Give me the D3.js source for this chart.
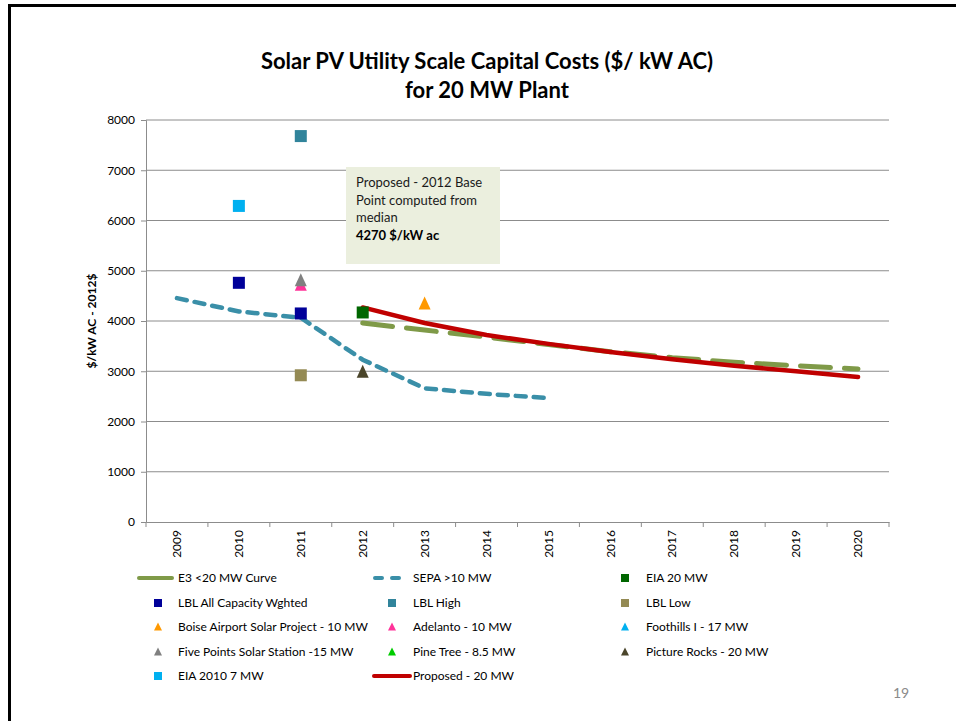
<!DOCTYPE html>
<html><head><meta charset="utf-8">
<script src="https://cdn.jsdelivr.net/npm/d3@7"></script>
<style>body{margin:0;background:#fff;} svg{display:block;}</style>
</head><body>
<script>
const years = ["2009","2010","2011","2012","2013","2014","2015","2016","2017","2018","2019","2020"];
const yTicks = [0,1000,2000,3000,4000,5000,6000,7000,8000];

const e3Years = ["2012","2013","2014","2015","2016","2017","2018","2019","2020"];
const e3Values = [3960,3820,3680,3530,3390,3270,3180,3110,3045];

const sepaYears = ["2009","2010","2011","2012","2013","2014","2015"];
const sepaValues = [4455,4190,4065,3230,2660,2550,2465];

const propYears = ["2012","2013","2014","2015","2016","2017","2018","2019","2020"];
const propValues = [4270,3960,3720,3545,3385,3240,3110,3000,2885];

const eia20 = [["2012",4170]];
const lblAll = [["2010",4760],["2011",4150]];
const lblHigh = [["2011",7680]];
const lblLow = [["2011",2920]];
const boise = [["2013",4350]];
const adelanto = [["2011",4720]];
const foothills = [];
const fivePoints = [["2011",4810]];
const pineTree = [];
const pictureRocks = [["2012",2990]];
const eia2010 = [["2010",6290]];

const W=956,H=721;
const svg=d3.select("body").append("svg").attr("width",W).attr("height",H);
const font="Lato, 'Open Sans', sans-serif";

// page border
svg.append("path").attr("d","M9.5,721 L9.5,5.5 L956,5.5").attr("fill","none").attr("stroke","#000").attr("stroke-width",3);

const x=d3.scaleBand().domain(years).range([146,889]);
const y=d3.scaleLinear().domain([0,8000]).range([522,120]);
const cx=d=>x(d)+x.bandwidth()/2;

// gridlines
svg.append("g").selectAll("line").data(yTicks.slice(1)).join("line")
  .attr("x1",146).attr("x2",889).attr("y1",d=>y(d)).attr("y2",d=>y(d))
  .attr("stroke","#8c8c8c").attr("stroke-width",1);

// y axis
const ya=svg.append("g").attr("transform","translate(146,0)").call(d3.axisLeft(y).tickValues(yTicks).tickSize(5).tickPadding(6).tickFormat(d3.format("d")));
ya.select(".domain").attr("stroke","#8c8c8c");
ya.selectAll(".tick line").attr("stroke","#8c8c8c");
ya.selectAll("text").attr("font-family",font).attr("font-size",12).attr("fill","#000");

// x axis
const xa=svg.append("g").attr("transform","translate(0,522)").call(d3.axisBottom(x).tickSize(0).tickPadding(0));
xa.select(".domain").attr("stroke","#8c8c8c");
xa.selectAll(".tick text").attr("font-family",font).attr("font-size",12).attr("fill","#000")
  .attr("transform","rotate(-90)").attr("text-anchor","end").attr("dy","0.35em").attr("x",-8).attr("y",0);
svg.append("g").selectAll("line").data(years.concat(["end"])).join("line")
  .attr("x1",(d,i)=>146+i*x.step()).attr("x2",(d,i)=>146+i*x.step())
  .attr("y1",522).attr("y2",527).attr("stroke","#8c8c8c");

// y title
svg.append("text").attr("transform","translate(96,321) rotate(-90)").attr("text-anchor","middle")
  .attr("font-family",font).attr("font-weight","bold").attr("font-size",12).text("$/kW AC - 2012$");

// title
svg.append("text").attr("x",487).attr("y",69).attr("text-anchor","middle").attr("font-family",font)
  .attr("font-weight","bold").attr("font-size",22).text("Solar PV Utility Scale Capital Costs ($/ kW AC)");
svg.append("text").attr("x",487).attr("y",98).attr("text-anchor","middle").attr("font-family",font)
  .attr("font-weight","bold").attr("font-size",22).text("for 20 MW Plant");

// annotation box
svg.append("rect").attr("x",346).attr("y",167).attr("width",154).attr("height",97).attr("fill","#EBEFDE");
const ann=["Proposed - 2012 Base","Point computed from","median"];
ann.forEach((t,i)=>svg.append("text").attr("x",356).attr("y",187+i*17.5).attr("font-family",font).attr("font-size",13).attr("fill","#1a1a1a").text(t));
svg.append("text").attr("x",356).attr("y",187+3*17.5).attr("font-family",font).attr("font-size",13).attr("font-weight","bold").attr("fill","#000").text("4270 $/kW ac");

// lines
const line=d3.line().x(d=>cx(d[0])).y(d=>y(d[1]));
const GREEN="#7F9A48", TEAL="#3A8FA8", RED="#C00000";
svg.append("path").datum(d3.zip(sepaYears,sepaValues)).attr("d",line).attr("fill","none")
  .attr("stroke",TEAL).attr("stroke-width",4.5).attr("stroke-dasharray","10,8").attr("stroke-linecap","round");
svg.append("path").datum(d3.zip(e3Years,e3Values)).attr("d",line).attr("fill","none")
  .attr("stroke",GREEN).attr("stroke-width",5).attr("stroke-dasharray","30,14").attr("stroke-linecap","round");
svg.append("path").datum(d3.zip(propYears,propValues)).attr("d",line).attr("fill","none")
  .attr("stroke",RED).attr("stroke-width",4.5).attr("stroke-linecap","round");

// markers
const sq=(data,color,s=12)=>svg.append("g").selectAll("rect").data(data).join("rect")
  .attr("x",d=>cx(d[0])-s/2).attr("y",d=>y(d[1])-s/2).attr("width",s).attr("height",s).attr("fill",color);
const tri=(data,color,s=12)=>svg.append("g").selectAll("path").data(data).join("path")
  .attr("d",d=>{const px=cx(d[0]),py=y(d[1]);return `M${px},${py-s/2-1}L${px+s/2},${py+s/2}L${px-s/2},${py+s/2}Z`;}).attr("fill",color);

const C={eia20:"#006600",lblAll:"#000099",lblHigh:"#31849B",lblLow:"#948A54",boise:"#FF9900",adelanto:"#FF3399",foothills:"#00B0F0",five:"#808080",pine:"#00CC00",pic:"#4A452A",eia2010:"#00B0F0"};
sq(lblHigh,C.lblHigh); sq(eia2010,C.eia2010); sq(lblAll,C.lblAll); sq(lblLow,C.lblLow);
tri(adelanto,C.adelanto); tri(fivePoints,C.five); tri(boise,C.boise); tri(foothills,C.foothills); tri(pineTree,C.pine);
tri(pictureRocks,C.pic); sq(eia20,C.eia20);

// legend
const legend=[
 {t:"E3 <20 MW Curve",k:"line",c:GREEN},{t:"SEPA >10 MW",k:"dash",c:TEAL},{t:"EIA 20 MW",k:"sq",c:C.eia20},
 {t:"LBL All Capacity Wghted",k:"sq",c:C.lblAll},{t:"LBL High",k:"sq",c:C.lblHigh},{t:"LBL Low",k:"sq",c:C.lblLow},
 {t:"Boise Airport Solar Project - 10 MW",k:"tri",c:C.boise},{t:"Adelanto - 10 MW",k:"tri",c:C.adelanto},{t:"Foothills I - 17 MW",k:"tri",c:C.foothills},
 {t:"Five Points Solar Station -15 MW",k:"tri",c:C.five},{t:"Pine Tree - 8.5 MW",k:"tri",c:C.pine},{t:"Picture Rocks - 20 MW",k:"tri",c:C.pic},
 {t:"EIA 2010 7 MW",k:"sq",c:C.eia2010},{t:"Proposed - 20 MW",k:"red",c:RED}
];
const colSym=[158,392,625], colTxt=[178,413,646], rowY=[578,603,627,652,676];
legend.forEach((d,i)=>{
  const col=i%3,row=Math.floor(i/3),sx=colSym[col],sy=rowY[row];
  const g=svg.append("g");
  if(d.k==="line") g.append("line").attr("x1",139).attr("x2",172).attr("y1",sy).attr("y2",sy).attr("stroke",d.c).attr("stroke-width",4).attr("stroke-linecap","round");
  else if(d.k==="dash") g.append("line").attr("x1",375).attr("x2",402).attr("y1",sy).attr("y2",sy).attr("stroke",d.c).attr("stroke-width",4).attr("stroke-linecap","round").attr("stroke-dasharray","7,10");
  else if(d.k==="red") g.append("line").attr("x1",374).attr("x2",410).attr("y1",sy).attr("y2",sy).attr("stroke",d.c).attr("stroke-width",4).attr("stroke-linecap","round");
  else if(d.k==="sq") g.append("rect").attr("x",sx-4).attr("y",sy-4).attr("width",8).attr("height",8).attr("fill",d.c);
  else g.append("path").attr("d",`M${sx},${sy-4.5}L${sx+4},${sy+3.5}L${sx-4},${sy+3.5}Z`).attr("fill",d.c);
  g.append("text").attr("x",d.k==="red"?413:colTxt[col]).attr("y",sy).attr("dy","0.35em").attr("font-family",font).attr("font-size",12).attr("fill","#000").text(d.t);
});

// page number
svg.append("text").attr("x",901).attr("y",698).attr("text-anchor","middle").attr("font-family",font).attr("font-size",14).attr("fill","#8a8a8a").text("19");
</script>
</body></html>
